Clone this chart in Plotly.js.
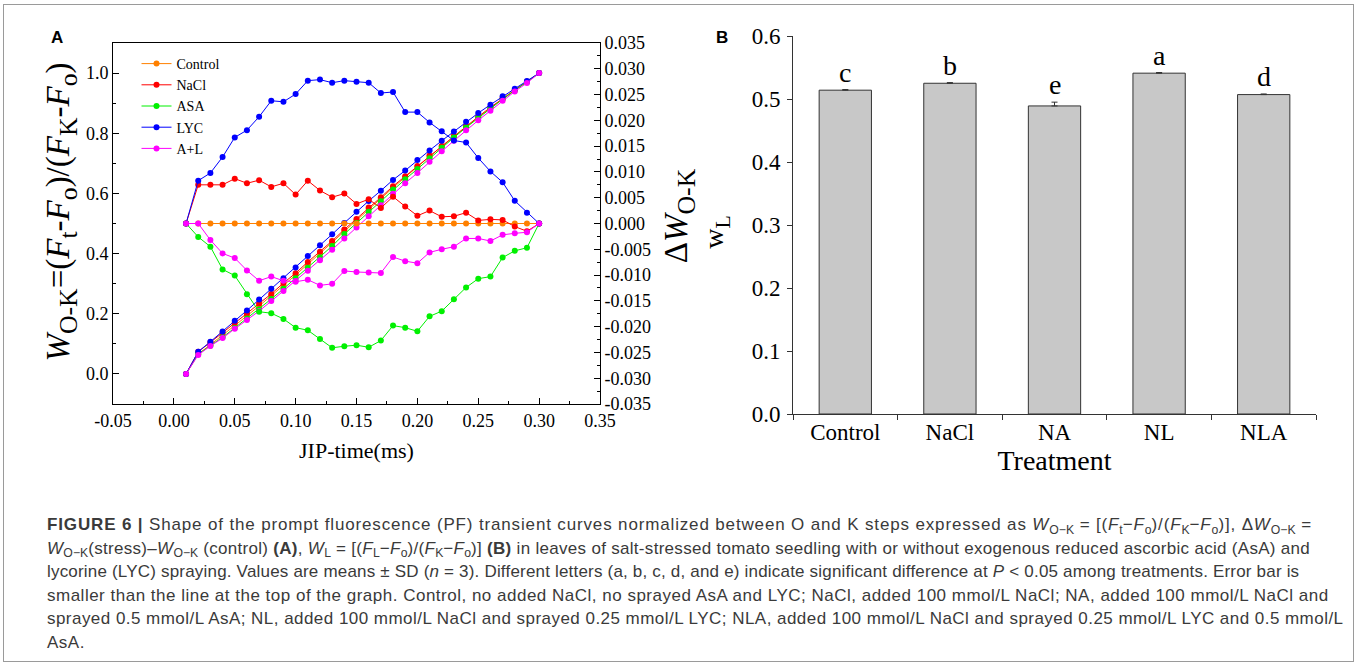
<!DOCTYPE html>
<html><head><meta charset="utf-8">
<script src="https://cdn.plot.ly/plotly-3.0.1.min.js"></script>
<style>
html,body{margin:0;padding:0;background:#fff;}
#wrap{position:relative;width:1358px;height:664px;overflow:hidden;background:#fff;}
#chart{position:absolute;left:0;top:0;width:1358px;height:664px;}
#frame{position:absolute;left:3px;top:4px;width:1349px;height:656px;border:1px solid #9a9a9a;pointer-events:none;}
#caption{position:absolute;left:47px;top:513px;font-family:"Liberation Sans",Arial,sans-serif;font-size:17px;line-height:23.6px;color:#3a3a3a;white-space:nowrap;}
#caption .ln{height:23.6px;}
#caption sub{font-size:72%;vertical-align:baseline;position:relative;top:0.3em;letter-spacing:0;}
.vt{position:absolute;transform:translate(-50%,-50%) rotate(-90deg);white-space:nowrap;font-family:"Liberation Serif","Times New Roman",serif;color:#000;line-height:1;}
.vt sub{font-size:78%;vertical-align:baseline;position:relative;top:0.3em;}
</style></head>
<body><div id="wrap"><div id="chart"></div><div class="vt" style="left:58px;top:212px;font-size:33px"><i>W</i><sub>O-K</sub>=(<i>F</i><sub>t</sub>-<i>F</i><sub>o</sub>)/(<i>F</i><sub>K</sub>-<i>F</i><sub>o</sub>)</div><div class="vt" style="left:676px;top:216px;font-size:33px">Δ<i>W</i><sub>O-K</sub></div><div class="vt" style="left:714px;top:232px;font-size:28px">w<sub>L</sub></div><div id="frame"></div><div id="caption"><div class="ln" style="letter-spacing:0.85px"><b>FIGURE 6 |</b> Shape of the prompt fluorescence (PF) transient curves normalized between O and K steps expressed as <i>W</i><sub>O−K</sub> = [(<i>F</i><sub>t</sub>−<i>F</i><sub>o</sub>)/(<i>F</i><sub>K</sub>−<i>F</i><sub>o</sub>)], Δ<i>W</i><sub>O−K</sub> =</div><div class="ln" style="letter-spacing:0.3px"><i>W</i><sub>O−K</sub>(stress)–<i>W</i><sub>O−K</sub> (control) <b>(A)</b>, <i>W</i><sub>L</sub> = [(<i>F</i><sub>L</sub>−<i>F</i><sub>o</sub>)/(<i>F</i><sub>K</sub>−<i>F</i><sub>o</sub>)] <b>(B)</b> in leaves of salt-stressed tomato seedling with or without exogenous reduced ascorbic acid (AsA) and</div><div class="ln" style="letter-spacing:0.19px">lycorine (LYC) spraying. Values are means ± SD (<i>n</i> = 3). Different letters (a, b, c, d, and e) indicate significant difference at <i>P</i> &lt; 0.05 among treatments. Error bar is</div><div class="ln" style="letter-spacing:0.5px">smaller than the line at the top of the graph. Control, no added NaCl, no sprayed AsA and LYC; NaCl, added 100 mmol/L NaCl; NA, added 100 mmol/L NaCl and</div><div class="ln" style="letter-spacing:0.46px">sprayed 0.5 mmol/L AsA; NL, added 100 mmol/L NaCl and sprayed 0.25 mmol/L LYC; NLA, added 100 mmol/L NaCl and sprayed 0.25 mmol/L LYC and 0.5 mmol/L</div><div class="ln" style="letter-spacing:0.5px">AsA.</div></div></div><script>
// ---------- Panel A data ----------
const jipTime = [0.01,0.02,0.03,0.04,0.05,0.06,0.07,0.08,0.09,0.10,0.11,0.12,0.13,0.14,0.15,0.16,0.17,0.18,0.19,0.20,0.21,0.22,0.23,0.24,0.25,0.26,0.27,0.28,0.29,0.30];
const seriesNames = ['Control','NaCl','ASA','LYC','A+L'];
// W(O-K) curves (left axis)
const wControl = [0,0.066,0.097,0.128,0.160,0.193,0.226,0.259,0.294,0.329,0.364,0.400,0.437,0.474,0.511,0.548,0.584,0.619,0.654,0.689,0.723,0.757,0.790,0.822,0.854,0.885,0.915,0.944,0.972,1.000];
const wNaCl    = [0,0.074,0.105,0.136,0.169,0.201,0.234,0.266,0.302,0.335,0.372,0.406,0.442,0.480,0.515,0.553,0.587,0.624,0.657,0.691,0.726,0.758,0.791,0.824,0.855,0.886,0.916,0.943,0.971,1.000];
const wASA     = [0,0.066,0.094,0.122,0.153,0.184,0.215,0.249,0.283,0.318,0.353,0.388,0.425,0.465,0.502,0.539,0.574,0.613,0.647,0.681,0.717,0.752,0.786,0.819,0.851,0.882,0.913,0.942,0.970,1.000];
const wLYC     = [0,0.074,0.107,0.141,0.177,0.211,0.247,0.283,0.318,0.354,0.392,0.428,0.464,0.502,0.539,0.575,0.609,0.645,0.676,0.711,0.743,0.775,0.806,0.838,0.867,0.895,0.923,0.948,0.974,1.000];
const wAL      = [0,0.063,0.093,0.119,0.150,0.179,0.209,0.242,0.276,0.309,0.343,0.378,0.413,0.450,0.487,0.524,0.561,0.599,0.634,0.668,0.705,0.740,0.775,0.810,0.843,0.875,0.908,0.939,0.967,1.000];
// Delta W(O-K) curves (right axis)
const dControl = [0,0,0,0,0,0,0,0,0,0,0,0,0,0,0,0,0,0,0,0,0,0,0,0,0,0,0,0,0,0];
const dNaCl    = [0,0.0075,0.0075,0.0075,0.0087,0.0078,0.0084,0.0071,0.0078,0.0056,0.0083,0.0064,0.0051,0.0058,0.0038,0.0047,0.0030,0.0052,0.0033,0.0015,0.0025,0.0013,0.0014,0.0021,0.0006,0.0008,0.0007,-0.0006,-0.0015,0];
const dASA     = [0,-0.0026,-0.0045,-0.0089,-0.0101,-0.0137,-0.0171,-0.0174,-0.0185,-0.0202,-0.0207,-0.0224,-0.0241,-0.0238,-0.0236,-0.0240,-0.0227,-0.0198,-0.0202,-0.0209,-0.0180,-0.0170,-0.0147,-0.0124,-0.0107,-0.0103,-0.0066,-0.0053,-0.0047,0];
const dLYC     = [0,0.0083,0.0098,0.0129,0.0167,0.0181,0.0207,0.0238,0.0236,0.0251,0.0277,0.0279,0.0273,0.0277,0.0275,0.0273,0.0253,0.0255,0.0216,0.0216,0.0196,0.0179,0.0161,0.0157,0.0127,0.0101,0.0080,0.0044,0.0021,0];
const dAL      = [0,0,-0.0032,-0.0058,-0.0067,-0.0091,-0.0111,-0.0103,-0.0111,-0.0113,-0.0109,-0.0120,-0.0117,-0.0092,-0.0094,-0.0095,-0.0096,-0.0065,-0.0073,-0.0077,-0.0056,-0.0050,-0.0045,-0.0029,-0.0029,-0.0034,-0.0022,-0.0019,-0.0017,0];
const xTickVals = [-0.05,0,0.05,0.10,0.15,0.20,0.25,0.30,0.35];
const xTickText = ['-0.05','0.00','0.05','0.10','0.15','0.20','0.25','0.30','0.35'];
const yTickVals = [0,0.2,0.4,0.6,0.8,1.0];
const yTickText = ['0.0','0.2','0.4','0.6','0.8','1.0'];
const y2TickVals = [0.035,0.030,0.025,0.020,0.015,0.010,0.005,0,-0.005,-0.010,-0.015,-0.020,-0.025,-0.030,-0.035];
const y2TickText = ['0.035','0.030','0.025','0.020','0.015','0.010','0.005','0.000','-0.005','-0.010','-0.015','-0.020','-0.025','-0.030','-0.035'];

// ---------- Panel B data ----------
const treatments = ['Control','NaCl','NA','NL','NLA'];
const wL   = [0.514,0.525,0.489,0.541,0.507];
const wLsd = [0.001,0.001,0.006,0.001,0.001];
const sigLetters = ['c','b','e','a','d'];

const colors = ['#FF8000','#FF0000','#00F000','#0000FF','#FF00FF'];
const wSets = [wControl,wNaCl,wASA,wLYC,wAL];
const dSets = [dControl,dNaCl,dASA,dLYC,dAL];
const serif = 'Liberation Serif, Times New Roman, serif';

const traces = [];
wSets.forEach((ys,i)=>{
  traces.push({type:'scatter',mode:'lines+markers',x:jipTime,y:ys,name:seriesNames[i],
    xaxis:'x',yaxis:'y',line:{color:colors[i],width:1},marker:{color:colors[i],size:6},showlegend:true});
});
dSets.forEach((ys,i)=>{
  traces.push({type:'scatter',mode:'lines+markers',x:jipTime,y:ys,name:seriesNames[i],
    xaxis:'x',yaxis:'y2',line:{color:colors[i],width:1},marker:{color:colors[i],size:6},showlegend:false});
});
traces.push({type:'bar',x:treatments,y:wL,xaxis:'x3',yaxis:'y3',width:0.5,showlegend:false,
  marker:{color:'#c8c8c8',line:{color:'#333',width:1}},
  error_y:{type:'data',symmetric:false,array:wLsd,arrayminus:wLsd.map(()=>0),color:'#333',thickness:1,width:3}});

const W=1358,H=664;
const fx=(a,b)=>[a/W,b/W];
const fy=(top,bot)=>[1-bot/H,1-top/H];

const annotations = treatments.map((t,i)=>({xref:'x3',yref:'y3',x:t,y:wL[i]+wLsd[i],text:sigLetters[i],
  showarrow:false,yanchor:'bottom',yshift:0,font:{family:serif,size:28,color:'#000'}}));
annotations.push({xref:'paper',yref:'paper',x:57/W,y:1-37/H,text:'<b>A</b>',showarrow:false,xanchor:'center',yanchor:'middle',font:{family:'Liberation Sans, Arial, sans-serif',size:17,color:'#000'}});
annotations.push({xref:'paper',yref:'paper',x:722/W,y:1-37/H,text:'<b>B</b>',showarrow:false,xanchor:'center',yanchor:'middle',font:{family:'Liberation Sans, Arial, sans-serif',size:17,color:'#000'}});

const tickFontA = {family:serif,size:18,color:'#000'};
const layout = {
  width:W,height:H,margin:{l:0,r:0,t:0,b:0},paper_bgcolor:'rgba(0,0,0,0)',plot_bgcolor:'rgba(0,0,0,0)',
  showlegend:true,
  legend:{x:136.5/W,y:1-48/H,xanchor:'left',yanchor:'top',bgcolor:'rgba(0,0,0,0)',font:{family:serif,size:14,color:'#000'},tracegroupgap:0},
  xaxis:{domain:fx(113,600),range:[-0.05,0.35],tickvals:xTickVals,ticktext:xTickText,ticks:'inside',ticklen:6,tickcolor:'#000',
    minor:{tickvals:[-0.025,0.025,0.075,0.125,0.175,0.225,0.275,0.325],ticks:'inside',ticklen:3,tickcolor:'#000'},
    showline:true,linecolor:'#000',linewidth:1,mirror:true,showgrid:false,zeroline:false,tickfont:tickFontA,anchor:'y',
    title:{text:'JIP-time(ms)',font:{family:serif,size:22,color:'#000'},standoff:13}},
  yaxis:{domain:fy(43,404),range:[-0.1,1.1],tickvals:yTickVals,ticktext:yTickText,ticks:'inside',ticklen:6,tickcolor:'#000',
    minor:{tickvals:[-0.1,0.1,0.3,0.5,0.7,0.9,1.1],ticks:'inside',ticklen:3,tickcolor:'#000'},
    showline:true,linecolor:'#000',linewidth:1,mirror:true,showgrid:false,zeroline:false,tickfont:tickFontA,anchor:'x'},
  yaxis2:{overlaying:'y',side:'right',anchor:'x',range:[-0.035,0.035],tickvals:y2TickVals,ticktext:y2TickText,ticks:'inside',ticklen:6,tickcolor:'#000',
    minor:{tickvals:[0.0325,0.0275,0.0225,0.0175,0.0125,0.0075,0.0025,-0.0025,-0.0075,-0.0125,-0.0175,-0.0225,-0.0275,-0.0325],ticks:'inside',ticklen:3,tickcolor:'#000'},
    showline:true,linecolor:'#000',linewidth:1,showgrid:false,zeroline:false,tickfont:tickFontA},
  xaxis3:{domain:fx(793,1316),anchor:'y3',type:'category',range:[-0.5,4.5],tickson:'boundaries',ticks:'outside',ticklen:5,tickcolor:'#333',
    showline:true,linecolor:'#333',linewidth:1,showgrid:false,zeroline:false,tickfont:{family:serif,size:23,color:'#000'},ticklabelstandoff:-3,
    title:{text:'Treatment',font:{family:serif,size:28,color:'#000'},standoff:0}},
  yaxis3:{domain:fy(36,414),anchor:'x3',range:[0,0.6],dtick:0.1,tick0:0,tickformat:'.1f',ticks:'outside',ticklen:5,tickcolor:'#333',
    showline:true,linecolor:'#333',linewidth:1,showgrid:false,zeroline:false,tickfont:{family:serif,size:23,color:'#000'},ticklabelstandoff:2},
  annotations:annotations
};
Plotly.newPlot('chart',traces,layout,{displayModeBar:false,staticPlot:true});
</script></body></html>
